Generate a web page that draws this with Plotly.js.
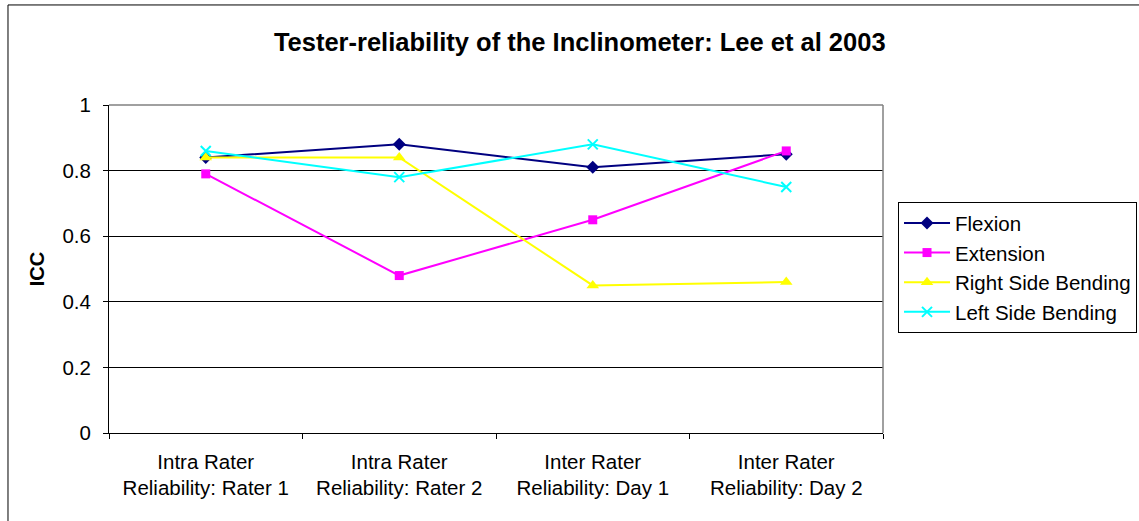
<!DOCTYPE html>
<html>
<head>
<meta charset="utf-8">
<script src="https://cdn.plot.ly/plotly-3.0.1.min.js"></script>
<style>html,body{margin:0;padding:0;background:#fff;} #chart{width:1139px;height:521px;}</style>
</head>
<body>
<div id="chart"></div>
<script>
const categories = ["Intra Rater<br>Reliability: Rater 1", "Intra Rater<br>Reliability: Rater 2", "Inter Rater<br>Reliability: Day 1", "Inter Rater<br>Reliability: Day 2"];
const flexion = [0.84, 0.88, 0.81, 0.85];
const extension = [0.79, 0.48, 0.65, 0.86];
const rightSideBending = [0.84, 0.84, 0.45, 0.46];
const leftSideBending = [0.86, 0.78, 0.88, 0.75];

const FONT = "Liberation Sans, Arial, sans-serif";

const traces = [
  {name: "Flexion", y: flexion, color: "#000080", symbol: "diamond", size: 10},
  {name: "Extension", y: extension, color: "#FF00FF", symbol: "square", size: 9},
  {name: "Right Side Bending", y: rightSideBending, color: "#FFFF00", symbol: "triangle-up", size: 11},
  {name: "Left Side Bending", y: leftSideBending, color: "#00FFFF", symbol: "x-thin-open", size: 10}
].map((t, i) => ({
  type: "scatter",
  mode: "lines+markers",
  x: categories,
  y: t.y,
  name: t.name,
  legendgroup: "g" + i,
  line: {color: t.color, width: 2},
  marker: {color: t.color, symbol: t.symbol, size: t.size, line: {color: t.color, width: t.symbol === "x-thin-open" ? 2 : 0}}
}));

const layout = {
  width: 1139, height: 521,
  margin: {l: 109, r: 256, t: 105, b: 88, autoexpand: false},
  paper_bgcolor: "#fff", plot_bgcolor: "#fff",
  font: {family: FONT, size: 20, color: "#000"},
  title: {text: "<b>Tester-reliability of the Inclinometer: Lee et al 2003</b>", font: {family: FONT, size: 25.5, color: "#000"}, xref: "container", x: 0.509, xanchor: "center", yref: "container", y: 0.919, yanchor: "middle"},
  showlegend: true,
  legend: {x: 1.0194, xanchor: "left", y: 0.704, yanchor: "top", bordercolor: "#000", borderwidth: 1, bgcolor: "#fff", font: {family: FONT, size: 20.5, color: "#000"}, tracegroupgap: 8, traceorder: "normal", itemwidth: 46},
  xaxis: {type: "category", range: [-0.5, 3.5], tickson: "boundaries", ticks: "outside", ticklen: 5, tickcolor: "#000", showline: true, linecolor: "#000", linewidth: 1, showgrid: false, zeroline: false, fixedrange: true, ticklabelstandoff: 10, tickfont: {family: FONT, size: 20.5, color: "#000"}},
  yaxis: {range: [0, 1], dtick: 0.2, tick0: 0, ticks: "outside", ticklen: 5, tickcolor: "#000", showline: true, linecolor: "#000", linewidth: 1, showgrid: true, gridcolor: "#000", gridwidth: 1, zeroline: false, fixedrange: true, ticklabelstandoff: 8, tickfont: {family: FONT, size: 20.5, color: "#000"},
    title: {text: "<b>ICC</b>", font: {family: FONT, size: 20, color: "#000"}, standoff: 12}},
  shapes: [
    {type: "line", xref: "paper", yref: "paper", x0: 0, x1: 1, y0: 1, y1: 1, line: {color: "#808080", width: 1.5}},
    {type: "line", xref: "paper", yref: "paper", x0: 1, x1: 1, y0: 0, y1: 1, line: {color: "#808080", width: 1.5}},
    {type: "rect", xref: "paper", yref: "paper", x0: -0.1305, x1: 1.34, y0: -0.3, y1: 1.305, line: {color: "#000", width: 1}, fillcolor: "rgba(0,0,0,0)"}
  ]
};

Plotly.newPlot("chart", traces, layout, {displayModeBar: false, staticPlot: true});
</script>
</body>
</html>
